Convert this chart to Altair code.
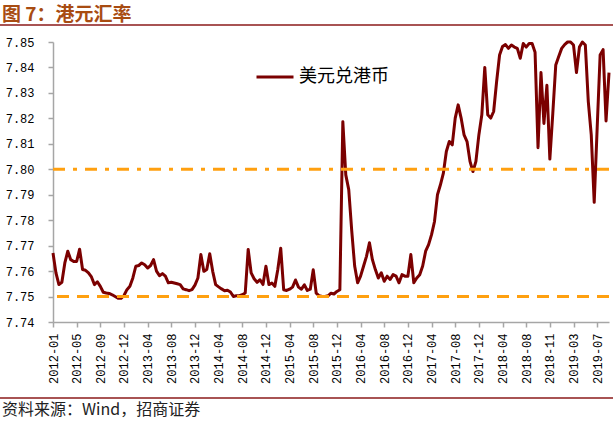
import altair as alt
import pandas as pd

# ---------------- data ----------------
tick_labels = ["2012-01", "2012-05", "2012-09", "2012-12", "2013-04", "2013-08",
               "2013-12", "2014-04", "2014-08", "2014-12", "2015-04", "2015-08",
               "2015-12", "2016-04", "2016-08", "2016-12", "2017-04", "2017-08",
               "2017-12", "2018-04", "2018-08", "2018-11", "2019-03", "2019-07"]
points_per_tick = 8

y_ticks = [7.74, 7.75, 7.76, 7.77, 7.78, 7.79, 7.80, 7.81, 7.82, 7.83, 7.84, 7.85]

usd_hkd = [
    7.7671, 7.7593, 7.7547, 7.7556, 7.7632, 7.7678, 7.7645, 7.7638, 7.7638, 7.7686,
    7.7606, 7.7603, 7.7593, 7.7577, 7.7547, 7.7558, 7.7540, 7.7517, 7.7514, 7.7512,
    7.7507, 7.7500, 7.7493, 7.7493, 7.7504, 7.7527, 7.7540, 7.7573, 7.7619, 7.7622,
    7.7632, 7.7625, 7.7612, 7.7622, 7.7645, 7.7600, 7.7582, 7.7590, 7.7580, 7.7554,
    7.7556, 7.7553, 7.7550, 7.7547, 7.7530, 7.7527, 7.7523, 7.7527, 7.7545, 7.7573,
    7.7665, 7.7599, 7.7606, 7.7668, 7.7599, 7.7547, 7.7538, 7.7530, 7.7523, 7.7525,
    7.7518, 7.7500, 7.7503, 7.7503, 7.7507, 7.7514, 7.7685, 7.7593, 7.7570, 7.7556,
    7.7566, 7.7547, 7.7619, 7.7547, 7.7553, 7.7540, 7.7605, 7.7690, 7.7527, 7.7524,
    7.7529, 7.7537, 7.7565, 7.7537, 7.7529, 7.7546, 7.7524, 7.7529, 7.7605, 7.7513,
    7.7503, 7.7500, 7.7500, 7.7503, 7.7513, 7.7510, 7.7520, 7.7527, 7.8187, 7.7978,
    7.7920, 7.7760, 7.7620, 7.7554, 7.7580, 7.7619, 7.7658, 7.7711, 7.7645, 7.7606,
    7.7573, 7.7593, 7.7560, 7.7580, 7.7567, 7.7586, 7.7580, 7.7554, 7.7586, 7.7580,
    7.7580, 7.7665, 7.7554, 7.7573, 7.7586, 7.7620, 7.7678, 7.7704, 7.7743, 7.7795,
    7.7900, 7.7939, 7.7985, 7.8070, 7.8109, 7.8096, 7.8201, 7.8253, 7.8201, 7.8135,
    7.8109, 7.8031, 7.7991, 7.8031, 7.8135, 7.8214, 7.8400, 7.8214, 7.8201, 7.8227,
    7.8344, 7.8449, 7.8482, 7.8490, 7.8475, 7.8488, 7.8480, 7.8475, 7.8436, 7.8494,
    7.8480, 7.8494, 7.8494, 7.8460, 7.8085, 7.8380, 7.8180, 7.8330, 7.8040, 7.8220,
    7.8410, 7.8443, 7.8475, 7.8490, 7.8500, 7.8500, 7.8488, 7.8380, 7.8480, 7.8500,
    7.8488, 7.8266, 7.8135, 7.7870, 7.8162, 7.8449, 7.8470, 7.8190, 7.8380,
]

series_name = "美元兑港币"
strong_side = 7.75
weak_side = 7.80

title_text = "图 7：港元汇率"
source_text = "资料来源：Wind，招商证券"

# ---------------- styles ----------------
line_color = "#7B0000"
ref_color = "#FFA010"
frame_red = "#8B1A1A"
axis_gray = "#A6A6A6"
mono = "Liberation Mono"
cjk = "Noto Sans CJK SC"

df = pd.DataFrame({"idx": list(range(len(usd_hkd))), "rate": usd_hkd, "series": series_name})

label_arr = "[" + ",".join("'" + s + "'" for s in tick_labels) + "]"
label_expr = label_arr + "[round(datum.value/" + str(points_per_tick) + ")]"
x_tick_vals = [k * points_per_tick for k in range(len(tick_labels))]

x_enc = alt.X(
    "idx:Q",
    scale=alt.Scale(domain=[0, len(usd_hkd) - 1], nice=False, zero=False),
    axis=alt.Axis(values=x_tick_vals, labelExpr=label_expr, labelAngle=-90,
                  labelFont=mono, labelFontSize=12, labelColor="#000000",
                  labelPadding=6, tickSize=5, labelOverlap=False, title=None,
                  grid=False, domainColor=axis_gray, tickColor=axis_gray,
                  domainWidth=1.5, tickWidth=1.5),
)
y_scale = alt.Scale(domain=[7.74, 7.85], nice=False, zero=False)
y_axis = alt.Axis(values=y_ticks, format=".2f", labelFont=mono, labelFontSize=12,
                  labelColor="#000000", labelPadding=14, tickSize=5, title=None,
                  grid=False, domainColor=axis_gray, tickColor=axis_gray,
                  domainWidth=1.5, tickWidth=1.5, labelOverlap=False)
y_enc = alt.Y("rate:Q", scale=y_scale, axis=y_axis)

line = alt.Chart(df).mark_line(strokeWidth=3, strokeJoin="round").encode(
    x=x_enc,
    y=y_enc,
    color=alt.Color(
        "series:N",
        scale=alt.Scale(domain=[series_name], range=[line_color]),
        legend=alt.Legend(orient="none", legendX=202, legendY=15, title=None,
                          symbolType="stroke", symbolSize=1369, symbolStrokeWidth=3,
                          labelFont=cjk, labelFontSize=18, labelColor="#000000",
                          labelOffset=4, padding=0),
    ),
)

rule_weak = alt.Chart(pd.DataFrame({"rate": [weak_side]})).mark_rule(
    color=ref_color, strokeWidth=3, strokeDash=[12, 8, 4, 8]
).encode(y=y_enc)

rule_strong = alt.Chart(pd.DataFrame({"rate": [strong_side]})).mark_rule(
    color=ref_color, strokeWidth=3, strokeDash=[12, 8]
).encode(y=y_enc)

title = alt.Chart(pd.DataFrame({"t": [title_text]})).mark_text(
    align="left", baseline="alphabetic", font=cjk, fontSize=19, fontWeight="bold",
    color="#A84C12"
).encode(x=alt.value(-51), y=alt.value(-21), text="t:N")

source = alt.Chart(pd.DataFrame({"t": [source_text]})).mark_text(
    align="left", baseline="alphabetic", font=cjk, fontSize=16, color="#222222"
).encode(x=alt.value(-51), y=alt.value(373), text="t:N")

top_line = alt.Chart(pd.DataFrame({"a": [0]})).mark_rule(
    color=frame_red, strokeWidth=1.5
).encode(x=alt.value(-53), x2=alt.value(560), y=alt.value(-17))

bottom_line = alt.Chart(pd.DataFrame({"a": [0]})).mark_rule(
    color=frame_red, strokeWidth=1.5
).encode(x=alt.value(-53), x2=alt.value(560), y=alt.value(356))

chart = alt.layer(
    line, rule_strong, rule_weak, title, source, top_line, bottom_line
).properties(
    width=556, height=280,
    padding={"left": 53, "top": 42, "right": 4, "bottom": 99},
    autosize=alt.AutoSizeParams(type="none"),
    background="white",
).configure_view(stroke=None)

chart.save("out.html", embed_options={"renderer": "svg", "actions": False})
